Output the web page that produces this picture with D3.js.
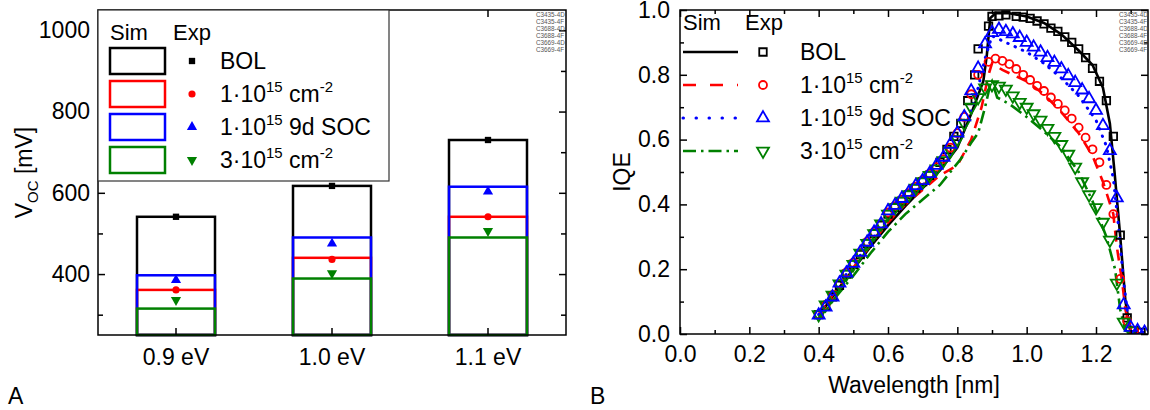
<!DOCTYPE html>
<html>
<head>
<meta charset="utf-8">
<script src="https://d3js.org/d3.v7.min.js"></script>
<style>
  body { margin: 0; background: #fff; }
  text { font-family: "Liberation Sans", Arial, sans-serif; }
</style>
</head>
<body>
<svg width="1150" height="410"></svg>
<script>
// ---- panel A data (Voc, mV)
const categories = ["0.9 eV", "1.0 eV", "1.1 eV"];
const simBOL  = [541, 617, 730];
const sim1e15 = [361, 440, 541];
const sim9d   = [397, 490, 615];
const sim3e15 = [315, 389, 490];
const expBOL  = [541, 617, 730];
const exp1e15 = [361, 436, 541];
const exp9d   = [385, 475, 603];
const exp3e15 = [336, 402, 506];
const vocTicks = [400, 600, 800, 1000];
const vocMinor = [300, 500, 700, 900];

// ---- panel B data (IQE vs wavelength), [wl, iqe]
const lineBOL = [[0.40,0.055],[0.45,0.13],[0.50,0.20],[0.55,0.27],[0.60,0.335],[0.65,0.395],[0.70,0.45],[0.75,0.505],[0.80,0.575],[0.84,0.68],[0.875,0.78],[0.885,0.86],[0.895,0.975],[0.91,0.99],[0.95,0.99],[1.00,0.98],[1.05,0.96],[1.10,0.925],[1.15,0.875],[1.19,0.83],[1.22,0.76],[1.24,0.65],[1.253,0.505],[1.27,0.30],[1.285,0.10],[1.30,0.005],[1.34,0.0]];
const line1e15 = [[0.40,0.06],[0.45,0.135],[0.50,0.205],[0.55,0.275],[0.60,0.345],[0.65,0.40],[0.70,0.445],[0.75,0.49],[0.80,0.52],[0.84,0.60],[0.87,0.70],[0.89,0.80],[0.90,0.835],[0.93,0.815],[0.96,0.80],[1.00,0.78],[1.05,0.74],[1.10,0.685],[1.15,0.62],[1.19,0.55],[1.22,0.47],[1.25,0.37],[1.26,0.27],[1.275,0.165],[1.285,0.075],[1.30,0.005],[1.34,0.0]];
const line9d = [[0.40,0.06],[0.45,0.14],[0.50,0.215],[0.55,0.285],[0.60,0.355],[0.65,0.41],[0.70,0.46],[0.75,0.51],[0.80,0.58],[0.83,0.66],[0.86,0.76],[0.88,0.85],[0.90,0.92],[0.92,0.91],[0.95,0.895],[1.00,0.87],[1.05,0.835],[1.10,0.79],[1.15,0.735],[1.20,0.66],[1.23,0.58],[1.25,0.48],[1.265,0.33],[1.28,0.16],[1.295,0.03],[1.31,0.01],[1.34,0.005]];
const line3e15 = [[0.40,0.05],[0.45,0.115],[0.50,0.18],[0.55,0.25],[0.60,0.315],[0.65,0.37],[0.70,0.415],[0.75,0.46],[0.81,0.54],[0.84,0.59],[0.86,0.62],[0.88,0.70],[0.895,0.77],[0.90,0.78],[0.915,0.73],[0.95,0.71],[1.00,0.67],[1.05,0.625],[1.10,0.575],[1.15,0.50],[1.19,0.41],[1.23,0.30],[1.255,0.20],[1.27,0.075],[1.285,0.01],[1.32,0.0]];

const ptsBOL = [[0.40,0.06],[0.42,0.085],[0.44,0.115],[0.46,0.15],[0.48,0.185],[0.50,0.215],[0.52,0.245],[0.54,0.28],[0.56,0.31],[0.58,0.335],[0.60,0.37],[0.62,0.39],[0.64,0.41],[0.66,0.43],[0.68,0.45],[0.70,0.47],[0.72,0.49],[0.75,0.53],[0.77,0.57],[0.79,0.61],[0.81,0.65],[0.83,0.72],[0.85,0.80],[0.86,0.88],[0.89,0.95],[0.90,0.98],[0.92,0.982],[0.94,0.985],[0.97,0.98],[0.99,0.978],[1.01,0.974],[1.03,0.966],[1.05,0.957],[1.07,0.944],[1.09,0.934],[1.11,0.917],[1.13,0.90],[1.15,0.88],[1.17,0.853],[1.19,0.82],[1.21,0.78],[1.23,0.72],[1.25,0.61],[1.27,0.305],[1.29,0.05],[1.31,0.01],[1.33,0.005]];
const pts1e15 = [[0.40,0.06],[0.42,0.09],[0.44,0.12],[0.46,0.155],[0.48,0.19],[0.50,0.22],[0.52,0.25],[0.54,0.285],[0.56,0.315],[0.58,0.34],[0.60,0.375],[0.62,0.395],[0.64,0.415],[0.66,0.435],[0.68,0.455],[0.70,0.475],[0.72,0.495],[0.74,0.515],[0.76,0.54],[0.78,0.575],[0.80,0.62],[0.82,0.67],[0.84,0.74],[0.86,0.80],[0.89,0.84],[0.91,0.85],[0.93,0.843],[0.95,0.833],[0.97,0.818],[0.99,0.80],[1.01,0.784],[1.03,0.766],[1.05,0.75],[1.07,0.73],[1.09,0.71],[1.11,0.69],[1.13,0.665],[1.15,0.637],[1.17,0.606],[1.19,0.57],[1.21,0.53],[1.23,0.46],[1.25,0.37],[1.27,0.17],[1.29,0.04],[1.31,0.01]];
const pts9d = [[0.40,0.058],[0.42,0.083],[0.44,0.114],[0.46,0.157],[0.48,0.188],[0.50,0.218],[0.52,0.252],[0.54,0.283],[0.56,0.314],[0.58,0.34],[0.60,0.38],[0.62,0.397],[0.64,0.418],[0.66,0.437],[0.68,0.458],[0.70,0.473],[0.72,0.495],[0.74,0.52],[0.76,0.545],[0.78,0.585],[0.80,0.62],[0.82,0.67],[0.84,0.75],[0.86,0.82],[0.88,0.895],[0.90,0.93],[0.92,0.94],[0.94,0.933],[0.96,0.926],[0.98,0.915],[1.00,0.90],[1.02,0.885],[1.04,0.87],[1.06,0.853],[1.08,0.838],[1.10,0.818],[1.12,0.797],[1.14,0.776],[1.16,0.753],[1.18,0.726],[1.20,0.69],[1.22,0.643],[1.24,0.566],[1.26,0.42],[1.28,0.09],[1.30,0.02],[1.32,0.01],[1.34,0.005]];
const pts3e15 = [[0.40,0.06],[0.42,0.09],[0.44,0.12],[0.46,0.155],[0.48,0.185],[0.50,0.215],[0.52,0.25],[0.54,0.28],[0.56,0.31],[0.58,0.34],[0.60,0.37],[0.62,0.39],[0.64,0.41],[0.66,0.43],[0.68,0.45],[0.70,0.47],[0.72,0.49],[0.74,0.51],[0.76,0.535],[0.78,0.565],[0.80,0.60],[0.82,0.65],[0.84,0.70],[0.86,0.73],[0.88,0.76],[0.90,0.77],[0.92,0.765],[0.94,0.756],[0.96,0.735],[0.98,0.715],[1.00,0.70],[1.02,0.68],[1.04,0.66],[1.06,0.635],[1.08,0.61],[1.10,0.585],[1.12,0.555],[1.14,0.515],[1.16,0.47],[1.18,0.43],[1.20,0.39],[1.22,0.345],[1.24,0.29],[1.26,0.157],[1.28,0.037],[1.30,0.01]];

const wlTicks = [0.0, 0.2, 0.4, 0.6, 0.8, 1.0, 1.2];
const wlMinor = [0.1, 0.3, 0.5, 0.7, 0.9, 1.1, 1.3];
const iqeTicks = [0.0, 0.2, 0.4, 0.6, 0.8, 1.0];
const iqeMinor = [0.1, 0.3, 0.5, 0.7, 0.9];

const sampleIds = ["C3435-4D", "C3435-4F", "C3688-4D", "C3688-4F", "C3669-4D", "C3669-4F"];

const legendLabels = [
  ["BOL"],
  ["1·10", "^15", " cm", "^-2"],
  ["1·10", "^15", " 9d SOC"],
  ["3·10", "^15", " cm", "^-2"]
];
const colors = ["#000000", "#ff0000", "#0000ff", "#008000"];

const FS = 23;
const svg = d3.select("svg");

// text with ^sup and _sub parts
function richText(g, x, y, parts, size) {
  const t = g.append("text").attr("x", x).attr("y", y).attr("font-size", size);
  let shift = 0;
  parts.forEach(p => {
    let target = 0, s = p, small = false;
    if (p[0] == "^") { target = -0.42 * size; s = p.slice(1); small = true; }
    if (p[0] == "_") { target = 0.25 * size; s = p.slice(1); small = true; }
    const ts = t.append("tspan").text(s);
    if (target != shift) { ts.attr("dy", target - shift); shift = target; }
    if (small) ts.attr("font-size", size * 0.65);
  });
  return t;
}

function styleAxis(g) {
  g.select(".domain").remove();
  g.selectAll("line").attr("stroke", "#000").attr("stroke-width", 1.5);
  g.selectAll("text").attr("font-size", FS).attr("font-family", "Liberation Sans, Arial, sans-serif").attr("fill", "#000");
}

const symSquare = d3.symbol().type(d3.symbolSquare);
const symCircle = d3.symbol().type(d3.symbolCircle);
const symTri = d3.symbol().type(d3.symbolTriangle);

// ================= Panel A =================
const A = {left: 98, right: 566, top: 10, bottom: 335};
const xA = d3.scaleBand().domain(categories).range([A.left, A.right]).paddingInner(0.5).paddingOuter(0.25);
const yA = d3.scaleLinear().domain([250, 1050]).range([A.bottom, A.top]);

const gA = svg.append("g");
const simA = [simBOL, sim1e15, sim9d, sim3e15];
simA.forEach((vals, si) => {
  gA.selectAll(".bar" + si).data(vals).enter().append("rect")
    .attr("x", (d, i) => xA(categories[i]))
    .attr("y", d => yA(d))
    .attr("width", xA.bandwidth())
    .attr("height", d => A.bottom - yA(d))
    .attr("fill", "none")
    .attr("stroke", colors[si])
    .attr("stroke-width", 2.5);
});

const expA = [
  {vals: expBOL, sym: symSquare.size(40), rot: 0},
  {vals: exp1e15, sym: symCircle.size(40), rot: 0},
  {vals: exp9d, sym: symTri.size(45), rot: 0},
  {vals: exp3e15, sym: symTri.size(45), rot: 180}
];
expA.forEach((s, si) => {
  const path = s.sym();
  gA.selectAll(".pt" + si).data(s.vals).enter().append("path")
    .attr("d", path)
    .attr("fill", colors[si])
    .attr("transform", (d, i) => `translate(${xA(categories[i]) + xA.bandwidth() / 2},${yA(d)}) rotate(${s.rot})`);
});

// axes A
const axA = svg.append("g");
axA.append("g").attr("transform", `translate(0,${A.bottom})`)
  .call(d3.axisBottom(xA).tickSizeInner(-7).tickSizeOuter(0).tickPadding(14)).call(styleAxis);
axA.append("g").attr("transform", `translate(0,${A.top})`)
  .call(d3.axisTop(xA).tickSizeInner(-7).tickSizeOuter(0).tickFormat("")).call(styleAxis);
axA.append("g").attr("transform", `translate(${A.left},0)`)
  .call(d3.axisLeft(yA).tickValues(vocTicks).tickFormat(d3.format("d")).tickSizeInner(-7).tickSizeOuter(0).tickPadding(8)).call(styleAxis);
axA.append("g").attr("transform", `translate(${A.left},0)`)
  .call(d3.axisLeft(yA).tickValues(vocMinor).tickSizeInner(-5).tickSizeOuter(0).tickFormat("")).call(styleAxis);
axA.append("g").attr("transform", `translate(${A.right},0)`)
  .call(d3.axisRight(yA).tickValues(vocTicks).tickSizeInner(-7).tickSizeOuter(0).tickFormat("")).call(styleAxis);
axA.append("g").attr("transform", `translate(${A.right},0)`)
  .call(d3.axisRight(yA).tickValues(vocMinor).tickSizeInner(-5).tickSizeOuter(0).tickFormat("")).call(styleAxis);
axA.append("rect").attr("x", A.left).attr("y", A.top)
  .attr("width", A.right - A.left).attr("height", A.bottom - A.top)
  .attr("fill", "none").attr("stroke", "#000").attr("stroke-width", 1.5);

// legend A
const lgA = svg.append("g");
lgA.append("rect").attr("x", A.left).attr("y", A.top).attr("width", 291).attr("height", 171)
  .attr("fill", "#fff").attr("stroke", "#333").attr("stroke-width", 1.2);
richText(lgA, 110, 40, ["Sim"], 22);
richText(lgA, 173, 40, ["Exp"], 22);
legendLabels.forEach((lab, i) => {
  const cy = 61 + i * 33;
  lgA.append("rect").attr("x", 110).attr("y", cy - 13).attr("width", 55).attr("height", 26)
    .attr("fill", "none").attr("stroke", colors[i]).attr("stroke-width", 2.5);
  lgA.append("path").attr("d", expA[i].sym())
    .attr("fill", colors[i])
    .attr("transform", `translate(192,${cy}) rotate(${expA[i].rot})`);
  richText(lgA, 220, cy + 8, lab, FS);
});
sampleIds.forEach((s, i) => {
  svg.append("text").attr("x", 536).attr("y", 17 + i * 7).attr("font-size", 6.3)
    .attr("fill", "#555").text(s);
});

svg.append("text").attr("transform", `translate(32,${(A.top + A.bottom) / 2}) rotate(-90)`)
  .attr("text-anchor", "middle").attr("font-size", FS)
  .call(t => {
    t.append("tspan").text("V");
    t.append("tspan").text("OC").attr("font-size", 15).attr("dy", 6);
    t.append("tspan").text(" [mV]").attr("dy", -6);
  });
svg.append("text").attr("x", 8).attr("y", 404).attr("font-size", FS).text("A");

// ================= Panel B =================
const B = {left: 680, right: 1148, top: 10, bottom: 334};
const xB = d3.scaleLinear().domain([0, 1.35]).range([B.left, B.right]);
const yB = d3.scaleLinear().domain([0, 1]).range([B.bottom, B.top]);

svg.append("clipPath").attr("id", "clipB").append("rect")
  .attr("x", B.left).attr("y", B.top).attr("width", B.right - B.left).attr("height", B.bottom - B.top);

const gB = svg.append("g").attr("clip-path", "url(#clipB)");
const line = d3.line().x(d => xB(d[0])).y(d => yB(d[1]));
const dashes = [null, "11,8", "0.5,7.5", "13,5,2.5,5"];
const linesB = [lineBOL, line1e15, line9d, line3e15];
linesB.forEach((ln, i) => {
  gB.append("path").datum(ln).attr("d", line)
    .attr("fill", "none").attr("stroke", colors[i]).attr("stroke-width", i == 2 ? 3 : 2.6)
    .attr("stroke-dasharray", dashes[i])
    .attr("stroke-linecap", i == 2 ? "round" : "butt");
});

const expB = [
  {pts: ptsBOL, sym: d3.symbol().type(d3.symbolSquare).size(56), rot: 0, ci: 0},
  {pts: pts1e15, sym: d3.symbol().type(d3.symbolCircle).size(50), rot: 0, ci: 1},
  {pts: pts3e15, sym: d3.symbol().type(d3.symbolTriangle).size(62), rot: 180, ci: 3},
  {pts: pts9d, sym: d3.symbol().type(d3.symbolTriangle).size(62), rot: 0, ci: 2}
];
expB.forEach(s => {
  const path = s.sym();
  gB.append("g").selectAll("path").data(s.pts).enter().append("path")
    .attr("d", path)
    .attr("fill", "none").attr("stroke", colors[s.ci]).attr("stroke-width", 1.8)
    .attr("transform", d => `translate(${xB(d[0])},${yB(d[1])}) rotate(${s.rot})`);
});

const fmt = d3.format(".1f");
const axB = svg.append("g");
axB.append("g").attr("transform", `translate(0,${B.bottom})`)
  .call(d3.axisBottom(xB).tickValues(wlTicks).tickFormat(fmt).tickSizeInner(-7).tickSizeOuter(0).tickPadding(12)).call(styleAxis);
axB.append("g").attr("transform", `translate(0,${B.bottom})`)
  .call(d3.axisBottom(xB).tickValues(wlMinor).tickFormat("").tickSizeInner(-4).tickSizeOuter(0)).call(styleAxis);
axB.append("g").attr("transform", `translate(0,${B.top})`)
  .call(d3.axisTop(xB).tickValues(wlTicks).tickFormat("").tickSizeInner(-7).tickSizeOuter(0)).call(styleAxis);
axB.append("g").attr("transform", `translate(0,${B.top})`)
  .call(d3.axisTop(xB).tickValues(wlMinor).tickFormat("").tickSizeInner(-4).tickSizeOuter(0)).call(styleAxis);
axB.append("g").attr("transform", `translate(${B.left},0)`)
  .call(d3.axisLeft(yB).tickValues(iqeTicks).tickFormat(fmt).tickSizeInner(-7).tickSizeOuter(0).tickPadding(10)).call(styleAxis);
axB.append("g").attr("transform", `translate(${B.left},0)`)
  .call(d3.axisLeft(yB).tickValues(iqeMinor).tickFormat("").tickSizeInner(-4).tickSizeOuter(0)).call(styleAxis);
axB.append("g").attr("transform", `translate(${B.right},0)`)
  .call(d3.axisRight(yB).tickValues(iqeTicks).tickFormat("").tickSizeInner(-7).tickSizeOuter(0)).call(styleAxis);
axB.append("g").attr("transform", `translate(${B.right},0)`)
  .call(d3.axisRight(yB).tickValues(iqeMinor).tickFormat("").tickSizeInner(-4).tickSizeOuter(0)).call(styleAxis);
axB.append("rect").attr("x", B.left).attr("y", B.top)
  .attr("width", B.right - B.left).attr("height", B.bottom - B.top)
  .attr("fill", "none").attr("stroke", "#000").attr("stroke-width", 1.5);

// legend B (no frame)
const lgB = svg.append("g");
richText(lgB, 683, 30, ["Sim"], 22);
richText(lgB, 745, 30, ["Exp"], 22);
const legSym = [expB[0], expB[1], expB[3], expB[2]];
legendLabels.forEach((lab, i) => {
  const cy = 52 + i * 33;
  lgB.append("line").attr("x1", 683).attr("x2", 738).attr("y1", cy).attr("y2", cy)
    .attr("stroke", colors[i]).attr("stroke-width", i == 2 ? 3 : 2.6)
    .attr("stroke-dasharray", i == 1 ? "13,14" : i == 2 ? "0.5,12.5" : dashes[i])
    .attr("stroke-linecap", i == 2 ? "round" : "butt");
  lgB.append("path").attr("d", legSym[i].sym())
    .attr("fill", "none").attr("stroke", colors[i]).attr("stroke-width", 1.8)
    .attr("transform", `translate(763,${cy}) rotate(${legSym[i].rot})`);
  richText(lgB, 800, cy + 8, lab, FS);
});
sampleIds.forEach((s, i) => {
  svg.append("text").attr("x", 1119).attr("y", 17 + i * 7).attr("font-size", 6.3)
    .attr("fill", "#555").text(s);
});

svg.append("text").attr("transform", `translate(630,${(B.top + B.bottom) / 2}) rotate(-90)`)
  .attr("text-anchor", "middle").attr("font-size", FS).text("IQE");
svg.append("text").attr("x", (B.left + B.right) / 2).attr("y", 393)
  .attr("text-anchor", "middle").attr("font-size", FS).text("Wavelength [nm]");
svg.append("text").attr("x", 590).attr("y", 404).attr("font-size", FS).text("B");
</script>
</body>
</html>
